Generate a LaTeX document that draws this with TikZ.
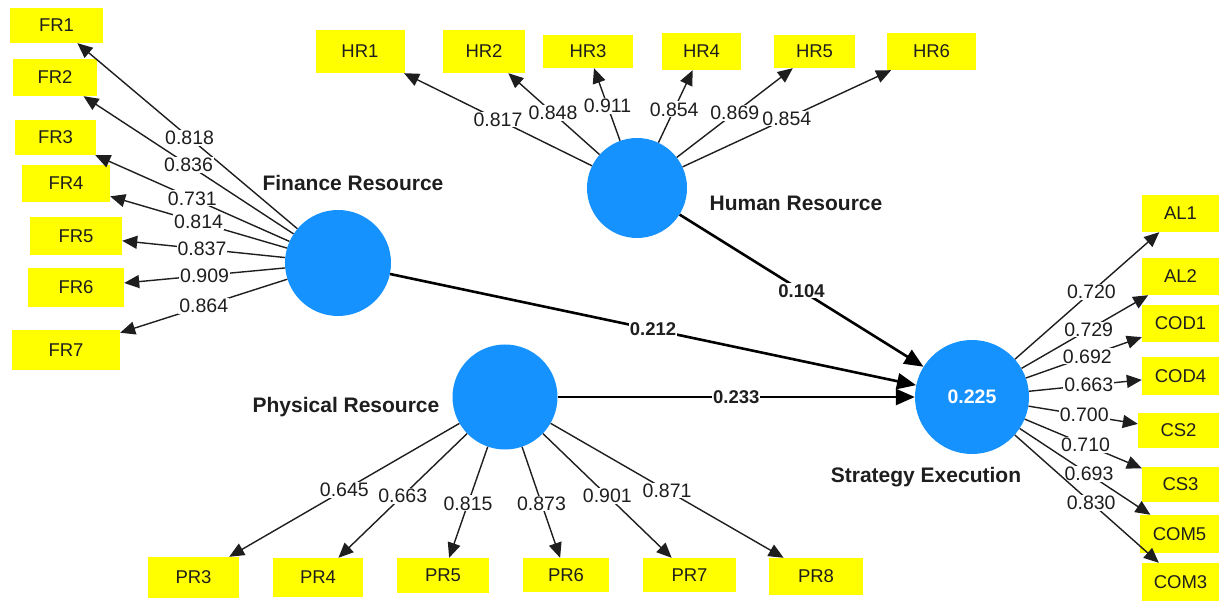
\documentclass[tikz,border=0pt]{standalone}
\usepackage{fontspec}
\setmainfont{Liberation Sans}
\usetikzlibrary{arrows.meta}
\definecolor{boxyellow}{RGB}{255,255,0}
\definecolor{lvblue}{RGB}{22,146,255}
\definecolor{inkgray}{RGB}{30,30,30}
\begin{document}
\begin{tikzpicture}[x=1pt,y=-1pt,
  ind/.style={fill=boxyellow, draw=none, inner sep=0pt, text=inkgray, font=\fontsize{18.5}{21}\selectfont},
  lv/.style={circle, fill=lvblue, draw=none, inner sep=0pt},
  lvname/.style={text=inkgray, font=\bfseries\fontsize{21}{24}\selectfont},
  load/.style={-{Triangle[length=15pt,width=13pt]}, line width=1.4pt, draw=inkgray},
  structpath/.style={-{Triangle[length=19pt,width=16pt]}, line width=2.6pt, draw=black},
  lab/.style={fill=white, inner sep=1pt, text=inkgray, font=\fontsize{19.5}{21}\selectfont},
  plab/.style={fill=white, inner sep=1pt, text=inkgray, font=\bfseries\fontsize{18.5}{21}\selectfont}]
\useasboundingbox (0,0) rectangle (1221,601);

% latent variables
\node[lv, minimum size=106pt] (FR) at (338,263) {};
\node[lv, minimum size=100pt] (HR) at (637,188) {};
\node[lv, minimum size=105pt] (PR) at (505,397) {};
\node[lv, minimum size=114pt, text=white, font=\bfseries\fontsize{19.5}{21}\selectfont] (SE) at (972,397) {0.225};

\node[lvname] (FRn) at (353,183) {Finance Resource};
\node[lvname] (HRn) at (796,203) {Human Resource};
\node[lvname] (PRn) at (346,407) {Physical Resource};
\node[lvname] (SEn) at (926,477) {Strategy Execution};

% finance indicators
\node[ind, minimum width=93pt, minimum height=35pt] (FR1) at (56.5,25.5) {FR1};
\node[ind, minimum width=84pt, minimum height=37pt] (FR2) at (55,77.5) {FR2};
\node[ind, minimum width=81pt, minimum height=35pt] (FR3) at (55.5,137.5) {FR3};
\node[ind, minimum width=88pt, minimum height=37pt] (FR4) at (66,183.5) {FR4};
\node[ind, minimum width=92pt, minimum height=38pt] (FR5) at (76,236) {FR5};
\node[ind, minimum width=96pt, minimum height=39pt] (FR6) at (76,287.5) {FR6};
\node[ind, minimum width=108pt, minimum height=40pt] (FR7) at (66,350) {FR7};

% human indicators
\node[ind, minimum width=89pt, minimum height=43pt] (HR1) at (360,51.5) {HR1};
\node[ind, minimum width=82pt, minimum height=43pt] (HR2) at (484,51.5) {HR2};
\node[ind, minimum width=90pt, minimum height=33pt] (HR3) at (588,51.5) {HR3};
\node[ind, minimum width=79pt, minimum height=37pt] (HR4) at (701.5,51.5) {HR4};
\node[ind, minimum width=81pt, minimum height=33pt] (HR5) at (814.5,51.5) {HR5};
\node[ind, minimum width=89pt, minimum height=37pt] (HR6) at (931.5,51.5) {HR6};

% physical indicators
\node[ind, minimum width=91pt, minimum height=41pt] (PR3) at (193.5,577.5) {PR3};
\node[ind, minimum width=90pt, minimum height=39pt] (PR4) at (318,577.5) {PR4};
\node[ind, minimum width=92pt, minimum height=35pt] (PR5) at (443,575.5) {PR5};
\node[ind, minimum width=86pt, minimum height=34pt] (PR6) at (566,575) {PR6};
\node[ind, minimum width=93pt, minimum height=34pt] (PR7) at (689.5,575) {PR7};
\node[ind, minimum width=94pt, minimum height=37pt] (PR8) at (816,576.5) {PR8};

% strategy indicators
\node[ind, minimum width=77pt, minimum height=37pt] (AL1) at (1180.5,213.5) {AL1};
\node[ind, minimum width=77pt, minimum height=37pt] (AL2) at (1180.5,276.5) {AL2};
\node[ind, minimum width=77pt, minimum height=37pt] (COD1) at (1180.5,323.5) {COD1};
\node[ind, minimum width=77pt, minimum height=38pt] (COD4) at (1180.5,376) {COD4};
\node[ind, minimum width=81pt, minimum height=35pt] (CS2) at (1178.5,430.5) {CS2};
\node[ind, minimum width=77pt, minimum height=35pt] (CS3) at (1180.5,484.5) {CS3};
\node[ind, minimum width=79pt, minimum height=38pt] (COM5) at (1179.5,534) {COM5};
\node[ind, minimum width=77pt, minimum height=38pt] (COM3) at (1180.5,582) {COM3};

% finance loadings
\draw[load] (FR) -- node[lab, pos=0.49] {0.818} (FR1);
\draw[load] (FR) -- node[lab, pos=0.50] {0.836} (FR2);
\draw[load] (FR) -- node[lab, pos=0.50] {0.731} (FR3);
\draw[load] (FR) -- node[lab, pos=0.50] {0.814} (FR4);
\draw[load] (FR) -- node[lab, pos=0.51] {0.837} (FR5);
\draw[load] (FR) -- node[lab, pos=0.50] {0.909} (FR6);
\draw[load] (FR) -- node[lab, pos=0.50] {0.864} (FR7);

% human loadings
\draw[load] (HR) -- node[lab, pos=0.50] {0.817} (HR1);
\draw[load] (HR) -- node[lab, pos=0.51] {0.848} (HR2);
\draw[load] (HR) -- node[lab, pos=0.48] {0.911} (HR3);
\draw[load] (HR) -- node[lab, pos=0.46] {0.854} (HR4);
\draw[load] (HR) -- node[lab, pos=0.50] {0.869} (HR5);
\draw[load] (HR) -- node[lab, pos=0.50] {0.854} (HR6);

% physical loadings
\draw[load] (PR) -- node[lab, pos=0.50] {0.645} (PR3);
\draw[load] (PR) -- node[lab, pos=0.50] {0.663} (PR4);
\draw[load] (PR) -- node[lab, pos=0.51] {0.815} (PR5);
\draw[load] (PR) -- node[lab, pos=0.51] {0.873} (PR6);
\draw[load] (PR) -- node[lab, pos=0.50] {0.901} (PR7);
\draw[load] (PR) -- node[lab, pos=0.50] {0.871} (PR8);

% strategy loadings
\draw[load] (SE) -- node[lab, pos=0.53] {0.720} (AL1);
\draw[load] (SE) -- node[lab, pos=0.53] {0.729} (AL2);
\draw[load] (SE) -- node[lab, pos=0.53] {0.692} (COD1);
\draw[load] (SE) -- node[lab, pos=0.53] {0.663} (COD4);
\draw[load] (SE) -- node[lab, pos=0.51] {0.700} (CS2);
\draw[load] (SE) -- node[lab, pos=0.52] {0.710} (CS3);
\draw[load] (SE) -- node[lab, pos=0.53] {0.693} (COM5);
\draw[load] (SE) -- node[lab, pos=0.53] {0.830} (COM3);

% structural paths
\draw[structpath] (FR) -- node[plab] {0.212} (SE);
\draw[structpath] (HR) -- node[plab] {0.104} (SE);
\draw[structpath] (PR) -- node[plab] {0.233} (SE);
\end{tikzpicture}
\end{document}
